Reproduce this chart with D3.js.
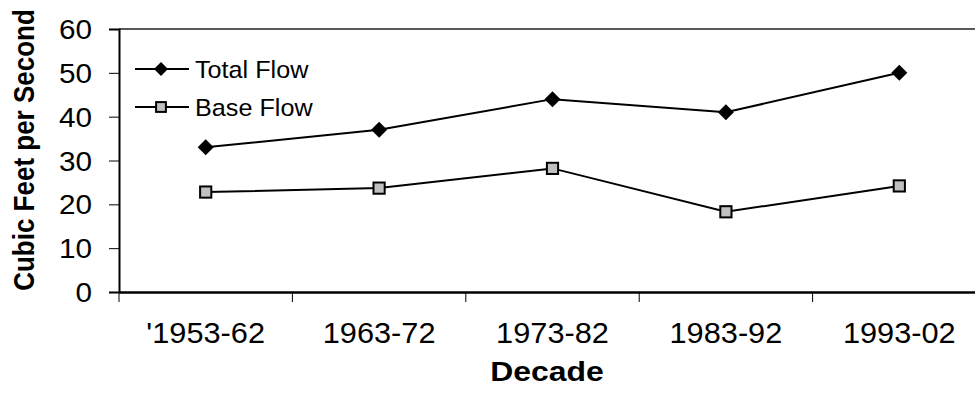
<!DOCTYPE html>
<html><head><meta charset="utf-8">
<script src="https://cdn.jsdelivr.net/npm/d3@7"></script>
<style>body{margin:0;background:#fff}svg{display:block}text{font-family:Arial,"Liberation Sans",sans-serif;fill:#000}</style>
</head><body><svg id="c" width="975" height="406"></svg>
<script>
const decades = ["'1953-62","1963-72","1973-82","1983-92","1993-02"];
const totalFlow = [33, 37, 44, 41, 50];
const baseFlow = [22.8, 23.7, 28.2, 18.3, 24.2];
const yTicks = [0,10,20,30,40,50,60];
const seriesNames = ["Total Flow","Base Flow"];

const SX = 1.1;
const svg = d3.select("#c");
const L = 119, R = 986, T = 29, B = 292;
const x = d3.scaleBand().domain(decades).range([L, R]);
const y = d3.scaleLinear().domain([0, 60]).range([B, T]);

// plot border top
svg.append("line").attr("x1", L).attr("x2", 975).attr("y1", T).attr("y2", T).attr("stroke", "#222").attr("stroke-width", 1.5);

// Y axis
const yAx = svg.append("g").attr("transform", `translate(${L},0)`)
  .call(d3.axisLeft(y).tickValues(yTicks).tickSize(10).tickFormat(""));
yAx.select(".domain").attr("stroke", "#000").attr("stroke-width", 2);
yAx.selectAll(".tick line").attr("stroke", "#000").attr("stroke-width", 1);
yTicks.forEach(v => {
  svg.append("text").attr("transform", `translate(92,${y(v)+10}) scale(${SX},1)`)
    .attr("text-anchor", "end").attr("font-size", 27).text(v);
});

// X axis
const xAx = svg.append("g").attr("transform", `translate(0,${B})`)
  .call(d3.axisBottom(x).tickSize(0).tickFormat(""));
xAx.select(".domain").attr("stroke", "#000").attr("stroke-width", 2.5);
decades.forEach((d, i) => {
  svg.append("line").attr("x1", x(d)).attr("x2", x(d)).attr("y1", B).attr("y2", B + 10).attr("stroke", "#000").attr("stroke-width", 1);
  svg.append("text").attr("transform", `translate(${x(d)+x.bandwidth()/2},${343}) scale(1.06,1)`)
    .attr("text-anchor", "middle").attr("font-size", 29).text(d);
});

// Axis titles
svg.append("text").attr("transform", `translate(34,150) scale(${SX},1) rotate(-90)`)
  .attr("text-anchor", "middle").attr("font-size", 26).attr("font-weight", "bold").text("Cubic Feet per Second");
svg.append("text").attr("transform", `translate(547,381) scale(1.14,1)`)
  .attr("text-anchor", "middle").attr("font-size", 28).attr("font-weight", "bold").text("Decade");

const cx = d => x(d) + x.bandwidth()/2;
const line = d3.line().x((v, i) => cx(decades[i])).y(v => y(v));

function diamond(g, px, py, r) {
  g.append("path").attr("d", `M${px},${py-r}L${px+r},${py}L${px},${py+r}L${px-r},${py}Z`).attr("fill", "#000");
}
function square(g, px, py, r) {
  g.append("rect").attr("x", px-r*0.7).attr("y", py-r*0.7).attr("width", r*1.4).attr("height", r*1.4)
    .attr("fill", "#c0c0c0").attr("stroke", "#000").attr("stroke-width", 2);
}

[[totalFlow, diamond], [baseFlow, square]].forEach(([data, mk]) => {
  svg.append("path").datum(data).attr("d", line).attr("fill", "none").attr("stroke", "#000").attr("stroke-width", 2);
  const g = svg.append("g");
  data.forEach((v, i) => mk(g, cx(decades[i]), y(v), 8));
});

// Legend
const legY = [69, 107];
seriesNames.forEach((name, i) => {
  svg.append("line").attr("x1", 135).attr("x2", 189).attr("y1", legY[i]).attr("y2", legY[i]).attr("stroke", "#000").attr("stroke-width", 2);
  (i === 0 ? diamond : square)(svg, 161, legY[i], 7);
  svg.append("text").attr("transform", `translate(195,${legY[i]+9}) scale(1.05,1)`)
    .attr("font-size", 24).text(name);
});
</script></body></html>
